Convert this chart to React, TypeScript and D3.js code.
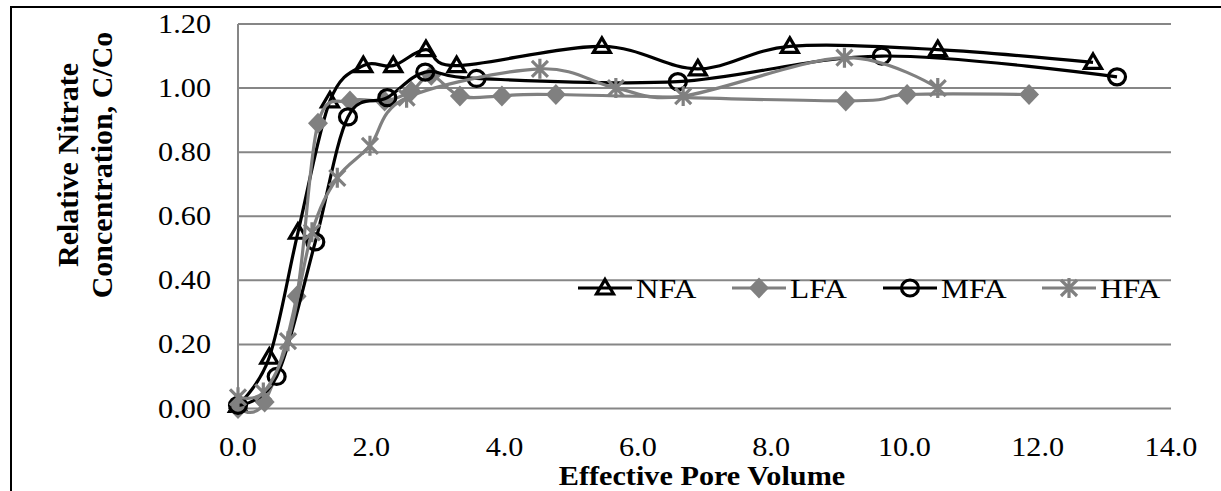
import React, { useEffect, useRef } from "react";
import * as d3 from "d3";

// x ticks / y ticks of the chart
const xTicks = [0, 2, 4, 6, 8, 10, 12, 14];
const yTicks = [0, 0.2, 0.4, 0.6, 0.8, 1.0, 1.2];

// [effective pore volume, C/Co]
const nfa: [number, number][] = [
  [0.0, 0.01], [0.47, 0.16], [0.9, 0.55], [1.38, 0.96], [1.88, 1.07], [2.33, 1.07],
  [2.82, 1.12], [3.28, 1.07], [5.46, 1.13], [6.9, 1.06], [8.28, 1.13], [10.5, 1.12], [12.83, 1.08],
];
const lfa: [number, number][] = [
  [0.0, 0.0], [0.4, 0.02], [0.88, 0.35], [1.2, 0.89], [1.68, 0.96], [2.2, 0.96], [2.6, 0.99],
  [2.9, 1.04], [3.33, 0.975], [3.96, 0.975], [4.77, 0.98], [9.12, 0.96], [10.04, 0.98], [11.87, 0.98],
];
const mfa: [number, number][] = [
  [0.0, 0.01], [0.58, 0.1], [1.16, 0.52], [1.65, 0.91], [2.24, 0.97], [2.81, 1.05],
  [3.58, 1.03], [6.6, 1.02], [9.66, 1.1], [13.19, 1.035],
];
const hfa: [number, number][] = [
  [0.0, 0.035], [0.38, 0.05], [0.75, 0.21], [1.11, 0.55], [1.49, 0.72], [1.98, 0.82],
  [2.53, 0.97], [4.53, 1.06], [5.67, 1.0], [6.68, 0.975], [9.1, 1.095], [10.5, 1.0],
];

const seriesNames = ["NFA", "LFA", "MFA", "HFA"];
const seriesData = [nfa, lfa, mfa, hfa];
const seriesColors = ["#000000", "#808080", "#000000", "#808080"];
const seriesMarkers = ["triangle", "diamond", "circle", "star"];

const FONT = "Liberation Serif";
const SX = 1.12; // the original picture is a bit wider than tall

function drawMarker(g: any, type: string, color: string) {
  if (type === "triangle") {
    g.append("path")
      .attr("d", "M0,-8.5L8.5,6L-8.5,6Z")
      .attr("fill", "none")
      .attr("stroke", color)
      .attr("stroke-width", 3.2)
      .attr("stroke-linejoin", "miter");
  } else if (type === "diamond") {
    g.append("path").attr("d", "M0,-10.5L10,0L0,10.5L-10,0Z").attr("fill", color);
  } else if (type === "circle") {
    g.append("ellipse").attr("rx", 8.5).attr("ry", 8).attr("fill", "none").attr("stroke", color).attr("stroke-width", 3.2);
  } else {
    // asterisk: x-cross plus vertical bar
    g.append("path")
      .attr("d", "M-8,-8L8,8M-8,8L8,-8M0,-10L0,10")
      .attr("stroke", color)
      .attr("stroke-width", 3.2)
      .attr("fill", "none");
  }
}

function label(parent: any, x: number, y: number, txt: string, size: number, anchor: string, bold = false) {
  parent.append("text")
    .attr("transform", `translate(${x},${y}) scale(${SX},1)`)
    .attr("text-anchor", anchor)
    .attr("font-family", FONT)
    .attr("font-weight", bold ? "bold" : "normal")
    .attr("font-size", size)
    .text(txt);
}

export default function App() {
  const ref = useRef<SVGSVGElement>(null);

  useEffect(() => {
    const svg = d3.select(ref.current);
    svg.selectAll("*").remove();

    const left = 238, right = 1171, top = 24, bottom = 408.5;
    const x = d3.scaleLinear().domain([0, 14]).range([left, right]);
    const y = d3.scaleLinear().domain([0, 1.2]).range([bottom, top]);

    // outer frame (only top + left visible in the crop)
    svg.append("path").attr("d", "M11,491L11,7L1221,7").attr("fill", "none").attr("stroke", "#000").attr("stroke-width", 2);

    // gridlines
    svg.append("g")
      .selectAll("line")
      .data(yTicks)
      .join("line")
      .attr("x1", left)
      .attr("x2", right)
      .attr("y1", (d) => y(d))
      .attr("y2", (d) => y(d))
      .attr("stroke", "#868686")
      .attr("stroke-width", 2);

    // y axis line
    svg.append("line")
      .attr("x1", left).attr("x2", left)
      .attr("y1", top).attr("y2", bottom)
      .attr("stroke", "#868686").attr("stroke-width", 2);

    // tick labels
    const tl = svg.append("g");
    yTicks.forEach((d) => label(tl, 211, y(d) + 9, d3.format(".2f")(d), 27, "end"));
    xTicks.forEach((d) => label(tl, x(d), 456, d3.format(".1f")(d), 27, "middle"));

    // axis titles
    label(svg, 702, 485, "Effective Pore Volume", 27, "middle", true);

    const yt = svg.append("text")
      .attr("transform", "translate(0,165) rotate(-90)")
      .attr("text-anchor", "middle")
      .attr("font-family", FONT)
      .attr("font-weight", "bold")
      .attr("font-size", 30);
    yt.append("tspan").attr("x", 0).attr("y", 78).text("Relative Nitrate");
    yt.append("tspan").attr("x", 0).attr("y", 112).text("Concentration, C/Co");

    // series
    const line = d3.line<[number, number]>()
      .x((d) => x(d[0]))
      .y((d) => y(d[1]))
      .curve(d3.curveCardinal.tension(0));

    seriesData.forEach((data, i) => {
      const g = svg.append("g");
      g.append("path")
        .attr("d", line(data))
        .attr("fill", "none")
        .attr("stroke", seriesColors[i])
        .attr("stroke-width", 3.2)
        .attr("stroke-linejoin", "round");
      data.forEach((d) => {
        const m = g.append("g").attr("transform", `translate(${x(d[0])},${y(d[1])})`);
        drawMarker(m, seriesMarkers[i], seriesColors[i]);
      });
    });

    // legend
    const legendX = [578, 732, 883, 1042];
    const legendY = 288;
    seriesNames.forEach((name, i) => {
      const g = svg.append("g").attr("transform", `translate(${legendX[i]},${legendY})`);
      g.append("line").attr("x1", 0).attr("x2", 54).attr("stroke", seriesColors[i]).attr("stroke-width", 3.2);
      const m = g.append("g").attr("transform", "translate(27,0)");
      drawMarker(m, seriesMarkers[i], seriesColors[i]);
      label(g, 58, 10, name, 28, "start");
    });
  }, []);

  return (
    <svg
      ref={ref}
      width={1221}
      height={491}
      style={{ position: "absolute", left: 0, top: 0, background: "#fff" }}
    />
  );
}
